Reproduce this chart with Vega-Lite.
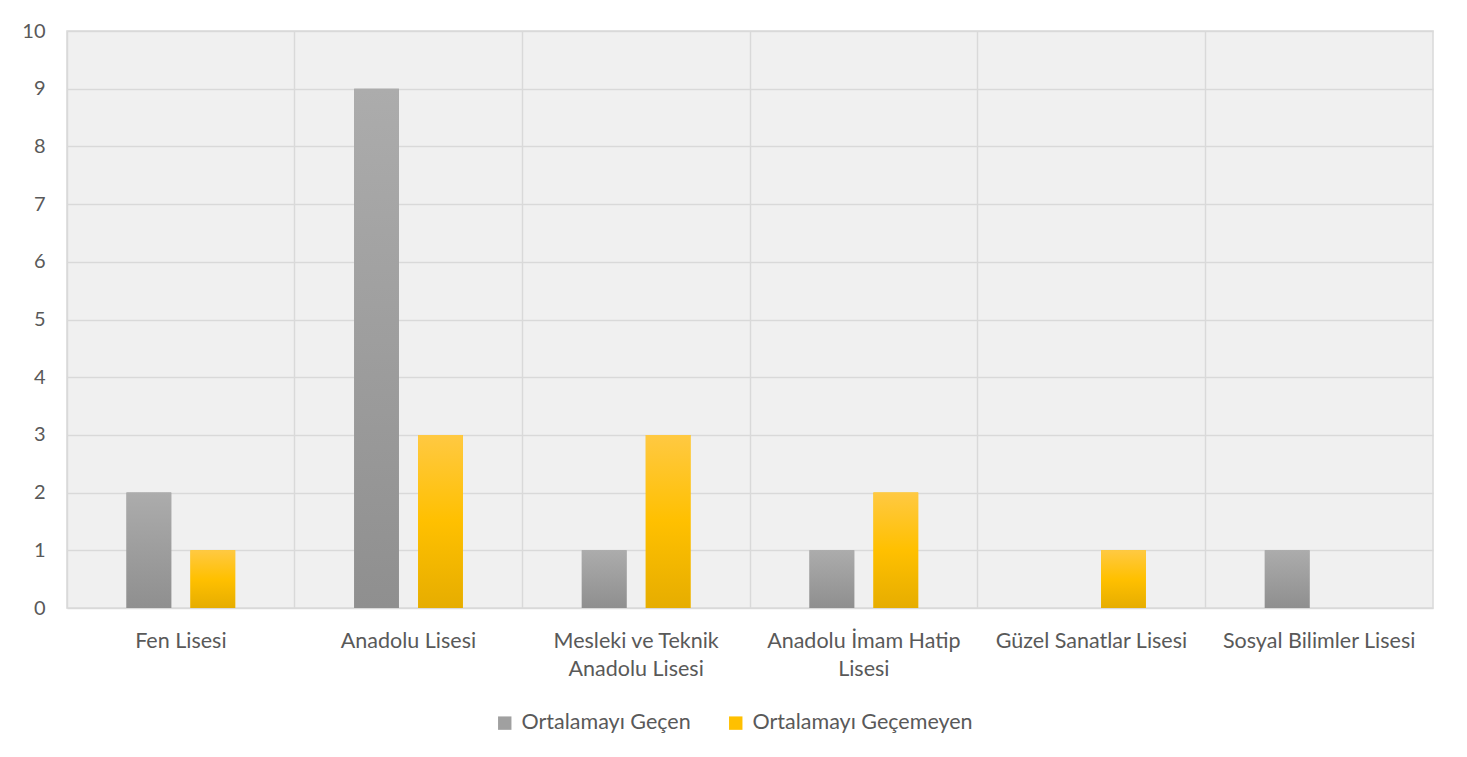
{
  "$schema": "https://vega.github.io/schema/vega-lite/v6.json",
  "width": 1366,
  "height": 577,
  "autosize": {"type": "none"},
  "padding": {"left": 67, "top": 31, "right": 34, "bottom": 149},
  "background": "white",
  "config": {
    "font": "Lato",
    "view": {"fill": "#f0f0f0", "stroke": "#d9d9d9", "strokeWidth": 1.5}
  },
  "data": {
    "values": [
      {"school": "Fen Lisesi", "series": "Ortalamayı Geçen", "count": 2},
      {"school": "Fen Lisesi", "series": "Ortalamayı Geçemeyen", "count": 1},
      {"school": "Anadolu Lisesi", "series": "Ortalamayı Geçen", "count": 9},
      {"school": "Anadolu Lisesi", "series": "Ortalamayı Geçemeyen", "count": 3},
      {"school": "Mesleki ve Teknik Anadolu Lisesi", "series": "Ortalamayı Geçen", "count": 1},
      {"school": "Mesleki ve Teknik Anadolu Lisesi", "series": "Ortalamayı Geçemeyen", "count": 3},
      {"school": "Anadolu İmam Hatip Lisesi", "series": "Ortalamayı Geçen", "count": 1},
      {"school": "Anadolu İmam Hatip Lisesi", "series": "Ortalamayı Geçemeyen", "count": 2},
      {"school": "Güzel Sanatlar Lisesi", "series": "Ortalamayı Geçen", "count": 0},
      {"school": "Güzel Sanatlar Lisesi", "series": "Ortalamayı Geçemeyen", "count": 1},
      {"school": "Sosyal Bilimler Lisesi", "series": "Ortalamayı Geçen", "count": 1},
      {"school": "Sosyal Bilimler Lisesi", "series": "Ortalamayı Geçemeyen", "count": 0}
    ]
  },
  "encoding": {
    "x": {
      "field": "school",
      "type": "nominal",
      "sort": null,
      "scale": {"paddingInner": 0, "paddingOuter": 0},
      "axis": {
        "title": null,
        "labelAngle": 0,
        "grid": true,
        "bandPosition": 0,
        "gridColor": "#d9d9d9",
        "gridWidth": 1.5,
        "ticks": false,
        "domain": false,
        "labelFontSize": 21.5,
        "labelColor": "#595959",
        "labelPadding": 22,
        "labelLineHeight": 28,
        "labelBaseline": "top",
        "labelLimit": 400,
        "labelExpr": "datum.label == 'Mesleki ve Teknik Anadolu Lisesi' ? ['Mesleki ve Teknik', 'Anadolu Lisesi'] : datum.label == 'Anadolu İmam Hatip Lisesi' ? ['Anadolu İmam Hatip', 'Lisesi'] : datum.label"
      }
    },
    "xOffset": {
      "field": "series",
      "type": "nominal",
      "sort": ["Ortalamayı Geçen", "Ortalamayı Geçemeyen"],
      "scale": {"paddingInner": 0.3, "paddingOuter": 0.93}
    },
    "y": {
      "field": "count",
      "type": "quantitative",
      "scale": {"domain": [0, 10], "nice": false},
      "axis": {
        "title": null,
        "values": [0, 1, 2, 3, 4, 5, 6, 7, 8, 9, 10],
        "grid": true,
        "gridColor": "#d9d9d9",
        "gridWidth": 1.5,
        "ticks": false,
        "domain": false,
        "labelFontSize": 20,
        "labelColor": "#595959",
        "labelPadding": 22
      }
    }
  },
  "layer": [
    {
      "mark": {"type": "bar"},
      "encoding": {
        "color": {
          "field": "series",
          "type": "nominal",
          "sort": ["Ortalamayı Geçen", "Ortalamayı Geçemeyen"],
          "scale": {"domain": ["Ortalamayı Geçen", "Ortalamayı Geçemeyen"], "range": ["#a0a0a0", "#ffc000"]},
          "legend": {
            "title": null,
            "orient": "none",
            "legendX": 427,
            "legendY": 681,
            "direction": "horizontal",
            "symbolType": "square",
            "symbolSize": 180,
            "symbolStrokeWidth": 0,
            "labelFontSize": 21.5,
            "labelColor": "#595959",
            "labelLimit": 400,
            "columnPadding": 34,
            "labelOffset": 6
          }
        }
      }
    },
    {
      "mark": {"type": "bar"},
      "encoding": {
        "fill": {
          "condition": {
            "test": "datum.series == 'Ortalamayı Geçen'",
            "value": {"gradient": "linear", "x1": 0, "y1": 0, "x2": 0, "y2": 1, "stops": [{"offset": 0, "color": "#acacac"}, {"offset": 1, "color": "#8f8f8f"}]}
          },
          "value": {"gradient": "linear", "x1": 0, "y1": 0, "x2": 0, "y2": 1, "stops": [{"offset": 0, "color": "#ffc942"}, {"offset": 0.5, "color": "#ffc000"}, {"offset": 1, "color": "#e6ad00"}]}
        }
      }
    }
  ]
}
